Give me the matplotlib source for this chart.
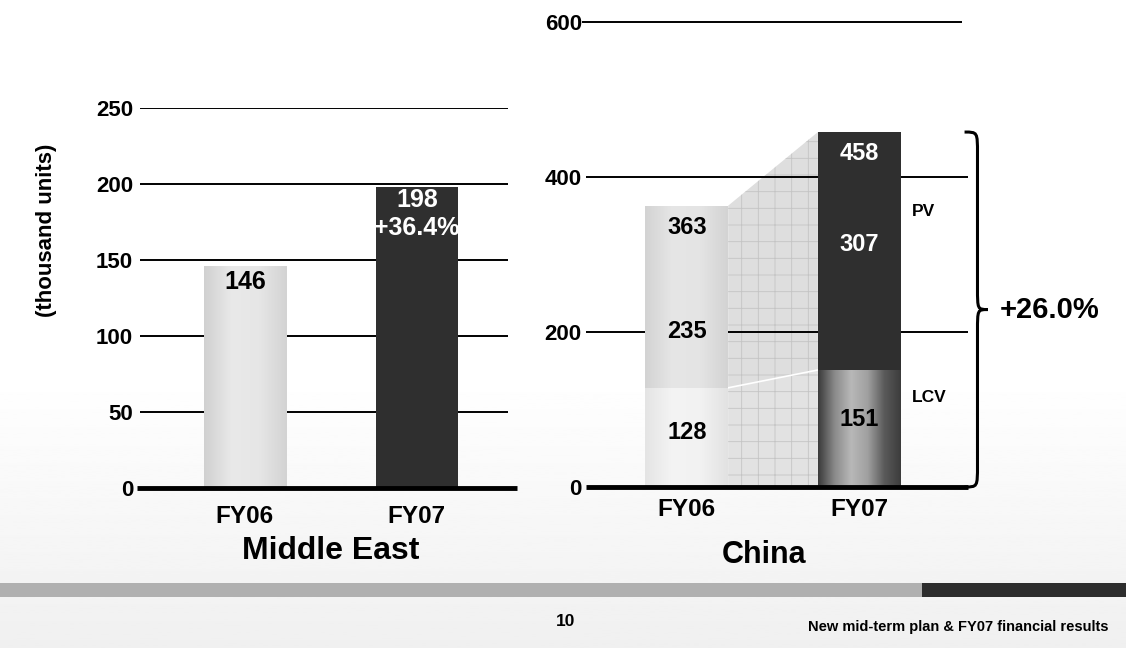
import numpy as np
import matplotlib
matplotlib.use("Agg")
import matplotlib.pyplot as plt
from matplotlib.colors import LinearSegmentedColormap
from matplotlib.patches import Polygon, Rectangle, PathPatch
from matplotlib.path import Path

plt.rcParams['font.family'] = ['Liberation Sans', 'DejaVu Sans']
plt.rcParams['font.weight'] = 'bold'
plt.rcParams['hatch.linewidth'] = 0.6

# Middle East
me_years = ['FY06', 'FY07']
me_units = [146, 198]
me_growth = '+36.4%'
me_ticks = [0, 50, 100, 150, 200, 250]

# China (LCV + PV)
cn_years = ['FY06', 'FY07']
cn_lcv = [128, 151]
cn_pv = [235, 307]
cn_total = [363, 458]
cn_growth = '+26.0%'
cn_ticks = [0, 200, 400, 600]

W, H = 1126, 648
fig = plt.figure(figsize=(W / 100, H / 100), dpi=100)


def fx(px):
    return px / W


def fy(py):
    return 1 - py / H


# background: white fading to light grey at the bottom
bg = fig.add_axes([0, 0, 1, 1], zorder=-10)
rows = np.linspace(0, 1, 300)
shade_rows = np.clip((rows - 0.58) / 0.42, 0, 1) * 0.06
bg.imshow(1 - shade_rows.reshape(-1, 1), cmap='gray', vmin=0, vmax=1,
          aspect='auto', extent=(0, 1, 0, 1), origin='upper')
bg.set_xlim(0, 1)
bg.set_ylim(0, 1)
bg.axis('off')

# footer bars and text
fig.add_artist(Rectangle((0, fy(597)), fx(922), 14 / H, transform=fig.transFigure,
                         color='#b0b0b0', lw=0))
fig.add_artist(Rectangle((fx(922), fy(597)), 1 - fx(922), 14 / H,
                         transform=fig.transFigure, color='#2d2d2d', lw=0))
fig.text(fx(566), fy(621), '10', ha='center', va='center', fontsize=12.5)
fig.text(fx(1109), fy(627), 'New mid-term plan & FY07 financial results',
         ha='right', va='center', fontsize=10.5)


def shade(ax, bar, stops):
    x0, y0 = bar.get_x(), bar.get_y()
    w, h = bar.get_width(), bar.get_height()
    cmap = LinearSegmentedColormap.from_list('g', stops)
    grad = np.linspace(0, 1, 256).reshape(1, -1)
    im = ax.imshow(grad, cmap=cmap, extent=(x0, x0 + w, y0, y0 + h),
                   aspect='auto', origin='lower', zorder=bar.get_zorder() + 0.1)
    im.set_clip_path(bar)


def style_axis(ax):
    ax.set_facecolor('none')
    for s in ax.spines.values():
        s.set_visible(False)
    ax.tick_params(axis='y', length=0, labelsize=16, pad=5)
    ax.tick_params(axis='x', length=0, labelsize=17.5, pad=12)


bw = 0.48

# ---------------- Middle East ----------------
ax1 = fig.add_axes([fx(140), fy(488), fx(508 - 140), (488 - 108) / H])
style_axis(ax1)
x1 = np.arange(len(me_years))
for t in me_ticks[1:]:
    ax1.axhline(t, color='black', lw=1.4, zorder=1)
ax1.plot([-0.008, 1.024], [0, 0], color='black', lw=3.5,
         transform=ax1.get_yaxis_transform(), clip_on=False, zorder=4,
         solid_capstyle='butt')
bars1 = ax1.bar(x1, me_units, width=bw, color=['#dcdcdc', '#2f2f2f'], lw=0, zorder=2)
shade(ax1, bars1[0], ['#d0d0d0', '#e9e9e9', '#e6e6e6', '#d3d3d3'])
ax1.text(x1[0], me_units[0] - 10.5, str(me_units[0]), ha='center', va='center',
         fontsize=18, zorder=5)
ax1.text(x1[1], me_units[1] - 8.5, str(me_units[1]), ha='center', va='center',
         fontsize=18, color='white', zorder=5)
t = ax1.text(x1[1], me_units[1] - 27, me_growth, ha='center', va='center',
             fontsize=18, color='white', zorder=5)
t.set_clip_path(bars1[1])
ax1.set_xlim(-0.61, 1.53)
ax1.set_ylim(0, 250)
ax1.set_yticks(me_ticks)
ax1.set_xticks(x1)
ax1.set_xticklabels(me_years)
fig.text(fx(47), fy(230), '(thousand units)', rotation=90, ha='center',
         va='center', fontsize=16)
fig.text(fx(331), fy(551), 'Middle East', ha='center', va='center', fontsize=23)

# ---------------- China ----------------
ax2 = fig.add_axes([fx(586), fy(487), fx(968 - 586), (487 - 22) / H])
style_axis(ax2)
ax2.tick_params(axis='y', pad=3)
x2 = np.arange(len(cn_years))
ax2.set_xlim(-0.584, 1.63)
ax2.set_ylim(0, 600)

# connector between the two stacked bars
xl, xr = x2[0] + bw / 2, x2[1] - bw / 2
low = Polygon([(xl, 0), (xr, 0), (xr, cn_lcv[1]), (xl, cn_lcv[0])],
              facecolor='#e2e2e2', edgecolor='#c4c4c4', hatch='+', lw=0, zorder=1)
up = Polygon([(xl, cn_lcv[0]), (xr, cn_lcv[1]), (xr, cn_total[1]), (xl, cn_total[0])],
             facecolor='#dedede', edgecolor='#c4c4c4', hatch='+', lw=0, zorder=1)
ax2.add_patch(low)
ax2.add_patch(up)
ax2.plot([xl, xr], [cn_lcv[0], cn_lcv[1]], color='white', lw=1.2, zorder=1.2)

ax2.hlines(cn_ticks[1:3], 0, 1, color='black', lw=1.4, zorder=1.5,
           transform=ax2.get_yaxis_transform())
ax2.hlines(cn_ticks[3], -0.01, 0.984, color='black', lw=1.4, zorder=1.5,
           transform=ax2.get_yaxis_transform(), clip_on=False)
ax2.plot([0, 1], [0, 0], color='black', lw=3.5, transform=ax2.get_yaxis_transform(),
         clip_on=False, zorder=4, solid_capstyle='butt')

lcv_bars = ax2.bar(x2, cn_lcv, width=bw, color=['#eeeeee', '#7a7a7a'], lw=0, zorder=2)
pv_bars = ax2.bar(x2, cn_pv, bottom=cn_lcv, width=bw, color=['#dddddd', '#2f2f2f'],
                  lw=0, zorder=2)
shade(ax2, lcv_bars[0], ['#e4e4e4', '#f4f4f4', '#f2f2f2', '#e2e2e2'])
shade(ax2, pv_bars[0], ['#d3d3d3', '#e6e6e6', '#e4e4e4', '#d3d3d3'])
shade(ax2, lcv_bars[1], ['#3a3a3a', '#8a8a8a', '#b8b8b8', '#a0a0a0', '#5a5a5a', '#3c3c3c'])
ax2.set_xlim(-0.584, 1.63)
ax2.set_ylim(0, 600)

ax2.text(x2[0], cn_total[0] - 28, str(cn_total[0]), ha='center', va='center',
         fontsize=17, zorder=5)
ax2.text(x2[0], cn_lcv[0] + 72, str(cn_pv[0]), ha='center', va='center',
         fontsize=17, zorder=5)
ax2.text(x2[0], cn_lcv[0] * 0.55, str(cn_lcv[0]), ha='center', va='center',
         fontsize=17, zorder=5)
ax2.text(x2[1], cn_total[1] - 28, str(cn_total[1]), ha='center', va='center',
         fontsize=17, color='white', zorder=5)
ax2.text(x2[1], cn_lcv[1] + 162, str(cn_pv[1]), ha='center', va='center',
         fontsize=17, color='white', zorder=5)
ax2.text(x2[1], cn_lcv[1] * 0.58, str(cn_lcv[1]), ha='center', va='center',
         fontsize=17, zorder=5)
ax2.text(1.306, 355, 'PV', ha='left', va='center', fontsize=12.5)
ax2.text(1.306, 115, 'LCV', ha='left', va='center', fontsize=12.5)

# brace spanning the FY07 total
ytop, ybot = cn_total[1], 0
ymid = (ytop + ybot) / 2
xa, xb, xc = 1.61, 1.685, 1.745
r = 28
verts = [(xa, ytop), (xb, ytop), (xb, ytop), (xb, ytop - r),
         (xb, ymid + r),
         (xb, ymid), (xb, ymid), (xc, ymid),
         (xb, ymid), (xb, ymid), (xb, ymid - r),
         (xb, ybot + r),
         (xb, ybot), (xb, ybot), (xa, ybot)]
codes = [Path.MOVETO, Path.CURVE4, Path.CURVE4, Path.CURVE4,
         Path.LINETO,
         Path.CURVE4, Path.CURVE4, Path.CURVE4,
         Path.CURVE4, Path.CURVE4, Path.CURVE4,
         Path.LINETO,
         Path.CURVE4, Path.CURVE4, Path.CURVE4]
ax2.add_patch(PathPatch(Path(verts, codes), fill=False, lw=2.2, color='black',
                        clip_on=False, zorder=5))
ax2.text(1.815, ymid, cn_growth, ha='left', va='center', fontsize=21)

ax2.set_yticks(cn_ticks)
ax2.set_xticks(x2)
ax2.set_xticklabels(cn_years)
ax2.tick_params(axis='x', pad=8)
fig.text(fx(764), fy(555), 'China', ha='center', va='center', fontsize=22)

fig.savefig('out.png', dpi=100)
